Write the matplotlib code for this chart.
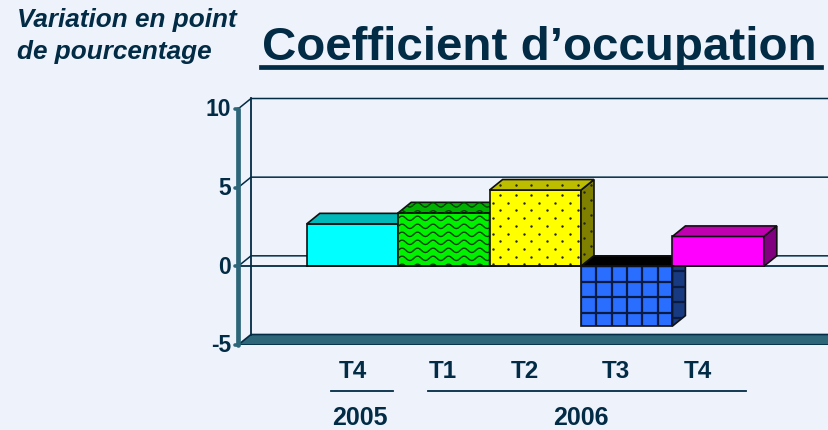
import numpy as np
import matplotlib
matplotlib.use('Agg')
import matplotlib.pyplot as plt
from matplotlib.patches import Polygon

plt.rcParams['font.family'] = ['Liberation Sans', 'DejaVu Sans']

trimestres = ['T4', 'T1', 'T2', 'T3', 'T4']
annees = ['2005', '2006']
valeurs = [2.7, 3.4, 4.85, -3.8, 1.9]
couleurs_face = ['#00FFFF', '#00F000', '#FFFF00', '#2A6EFF', '#FF00FF']
couleurs_haut = ['#00B8B8', '#00B000', '#BDBD00', '#000000', '#C000B0']
couleurs_cote = ['#008080', '#006000', '#808000', '#183A80', '#800080']
motifs = [None, 'vagues', 'points', 'grille', None]
graduations = [-5, 0, 5, 10]

FOND = '#EEF3FB'
SOMBRE = '#022B45'
SARCELLE = '#2C6678'
L, H = 829, 430

fig = plt.figure(figsize=(L / 100, H / 100), dpi=100, facecolor=FOND)

# axe en pixels: x 238-829, y 109-345 pour -5..10
ax_g, ax_d, ax_h, ax_b = 238, 829, 109, 345
ax = fig.add_axes([ax_g / L, 1 - ax_b / H, (ax_d - ax_g) / L, (ax_b - ax_h) / H])
ax.patch.set_alpha(0)
for s in ax.spines.values():
    s.set_visible(False)
ax.set_xticks([])
ax.set_yticks([])

px_x = 91.4                      # largeur d'une barre = 1 unite x
px_y = (ax_b - ax_h) / 15.0
ax.set_xlim((ax_g - 352.5) / px_x, (ax_d - 352.5) / px_x)
ax.set_ylim(-5, 10)
dx = 13 / px_x
dy = 10.5 / px_y
x0, x1 = ax.get_xlim()

# mur du fond et sol
ax.add_patch(Polygon([(x0, -5), (x0 + dx, -5 + dy), (x1 + 1, -5 + dy), (x1 + 1, -5)],
                     facecolor=SARCELLE, edgecolor=SOMBRE, lw=1.2, zorder=1))
ax.plot([x0 + dx, x0 + dx], [-5 + dy, 10 + dy], color=SOMBRE, lw=1.3, zorder=1, clip_on=False)
for g in graduations[1:]:
    ax.plot([x0, x0 + dx, x1], [g, g + dy, g + dy], color=SOMBRE, lw=1.1, zorder=1, clip_on=False)


def motif(nom, patch, xa, xb, ya, yb):
    """dessine le motif dans le patch, pas en pixels"""
    if nom == 'vagues':
        xs = np.linspace(xa, xb, 120)
        n = int((yb - ya) * px_y / 8) + 3
        for k in range(n):
            y = ya + k * 8 / px_y + 2.2 / px_y * np.sin(2 * np.pi * (xs - xa) * px_x / 15.5)
            ligne, = ax.plot(xs, y, color='#004000', lw=1.0, zorder=3)
            ligne.set_clip_path(patch)
    elif nom == 'points':
        n = int((yb - ya) * px_y / 7.7) + 2
        for k in range(n):
            xs = np.arange(xa + (3 if k % 2 else 10.5) / px_x, xb + 0.1, 15.5 / px_x)
            ys = np.full_like(xs, yb - (k * 7.7 + 5) / px_y)
            pts = ax.scatter(xs, ys, s=3, color='#202020', linewidths=0, zorder=3)
            pts.set_clip_path(patch)
    elif nom == 'grille':
        for xv in np.arange(xa, xb + 0.2, 15.3 / px_x):
            ligne, = ax.plot([xv, xv], [ya, yb], color='#0A1A40', lw=1.6, zorder=3)
            ligne.set_clip_path(patch)
        for yv in np.arange(yb, ya - 1, -15.5 / px_y):
            ligne, = ax.plot([xa, xb], [yv, yv], color='#0A1A40', lw=1.6, zorder=3)
            ligne.set_clip_path(patch)


barres = ax.bar(range(len(valeurs)), valeurs, width=1.0, color=couleurs_face,
                edgecolor='#101010', linewidth=1.2, zorder=2)
for i, (b, v) in enumerate(zip(barres, valeurs)):
    xa, xb = i - 0.5, i + 0.5
    ya, yb = min(v, 0), max(v, 0)
    z = 2 + i
    b.set_zorder(z)
    cote = Polygon([(xb, ya), (xb + dx, ya + dy), (xb + dx, yb + dy), (xb, yb)],
                   facecolor=couleurs_cote[i], edgecolor='#101010', lw=1.2, zorder=z)
    haut = Polygon([(xa, yb), (xa + dx, yb + dy), (xb + dx, yb + dy), (xb, yb)],
                   facecolor=couleurs_haut[i], edgecolor='#101010', lw=1.2, zorder=z)
    ax.add_patch(cote)
    ax.add_patch(haut)
    if motifs[i]:
        motif(motifs[i], b, xa, xb, ya, yb)
        motif(motifs[i], cote, xb, xb + dx, ya, yb + dy)
        if motifs[i] != 'grille':
            motif(motifs[i], haut, xa, xb + dx, yb, yb + dy)
    # les motifs passent juste au dessus de leur barre
    for art in ax.lines[-80:] + ax.collections[-40:]:
        if art.get_zorder() == 3:
            art.set_zorder(z + 0.5)

# ligne du zero devant
ax.plot([x0, x1], [0, 0], color=SOMBRE, lw=1.3, zorder=1.5, clip_on=False)
ax.plot([i - 0.5 for i in (0, 5)], [0, 0], color='#101010', lw=1.2, zorder=9)

# axe vertical
ax.plot([x0, x0], [-5, 10], color=SARCELLE, lw=3.4, zorder=8, clip_on=False, solid_capstyle='round')
for g in graduations:
    ax.plot([x0 - 3 / px_x, x0], [g, g], color=SARCELLE, lw=2.6, zorder=8, clip_on=False,
            solid_capstyle='round')
    ax.text(x0 - 7 / px_x, g - 1 / px_y, str(g), ha='right', va='center', fontsize=16.5,
            fontweight='bold', color=SOMBRE, clip_on=False)


def texte(x, y, s, **kw):
    return fig.text(x / L, 1 - y / H, s, color=SOMBRE, fontweight='bold', **kw)


def trait(xa, xb, y, lw):
    fig.add_artist(plt.Line2D([xa / L, xb / L], [1 - y / H] * 2, color=SOMBRE, lw=lw))


# etiquettes du bas
for x, t in zip([353, 443, 525, 616, 698], trimestres):
    texte(x, 372, t, ha='center', va='center', fontsize=17.5)
trait(331, 393, 391, 1.3)
trait(428, 746, 391, 1.3)
texte(360, 418, annees[0], ha='center', va='center', fontsize=18)
texte(581, 418, annees[1], ha='center', va='center', fontsize=18)

# titres
texte(262, 60, 'Coefficient d\u2019occupation', ha='left', va='baseline', fontsize=34.2)
trait(261, 821, 66.5, 3.4)
texte(17, 27, 'Variation en point', ha='left', va='baseline', fontsize=18.8, style='italic')
texte(17, 59, 'de pourcentage', ha='left', va='baseline', fontsize=18.8, style='italic')

fig.savefig('out.png', dpi=100, facecolor=FOND)
